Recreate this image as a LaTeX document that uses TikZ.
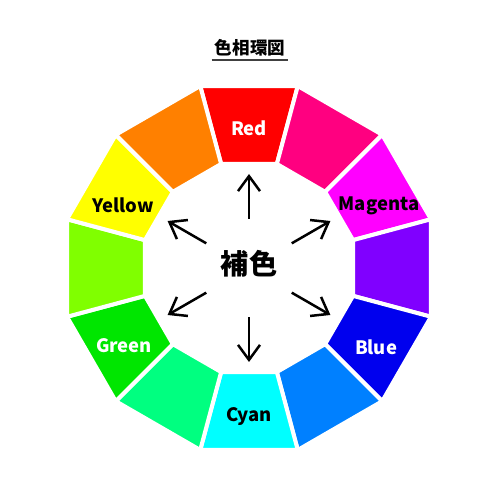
\documentclass[tikz,border=0pt]{standalone}
\usepackage{fontspec}
\setmainfont{Noto Sans CJK JP}
\usetikzlibrary{arrows.meta}
\begin{document}
\begin{tikzpicture}[x=0.02cm, y=0.02cm]
    % Styles
        \tikzstyle{segment} = [draw=white, line width=0.08cm]
        \tikzstyle{hue} = [font=\bfseries\fontsize{10.5}{12}\selectfont, inner sep=0]
        \tikzstyle{hub} = [circle, minimum size=1.96cm, inner sep=0, text height=0.6cm, text depth=0.34cm, font=\bfseries\fontsize{16}{18}\selectfont]
        \tikzstyle{heading} = [font=\bfseries\fontsize{10}{12}\selectfont, inner sep=0.06cm]
        \tikzstyle{pointer} = [draw, line width=0.05cm, -{Straight Barb[length=0.3cm, width=0.44cm]}]
    \useasboundingbox (0,0) rectangle (500,500);
    \begin{scope}[shift={(249,232)}]
    % colour wheel
        \foreach \a/\col in {90/FF0000, 60/FF0080, 30/FF00FF, 0/8000FF, -30/0000EE, -60/0080FF,
                             -90/00FFFF, -120/00FF80, -150/00E600, 180/80FF00, 150/FFFF00, 120/FF8000} {
            \definecolor{segcol}{HTML}{\col}
            \path [segment, fill=segcol] ({\a+15}:188.4) -- ({\a-15}:188.4) -- ({\a-15}:107.7) -- ({\a+15}:107.7) -- cycle;
        }
    % colour names
        \foreach \x/\y/\name/\tc in {0/140/Red/white, 130/62/Magenta/black, 127/-79/Blue/white,
                                     0/-149/Cyan/black, -125/-78/Green/white, -126/63/Yellow/black}
            \node [hue, text=\tc] (\name) at (\x,\y) {\name};
    % centre and arrows
        \node [hub] (hosyoku) at (0,0) {補色};
        \foreach \a in {90, 30, -30, -90, -150, 150} {
            \coordinate (tip\a) at (\a:94);
            \path [pointer] (hosyoku.\a) -- (tip\a);
        }
    % title
        \node [heading] (title) at (1,220) {色相環図};
        \draw [black!75, line width=0.03cm] (title.south west) -- (title.south east);
    \end{scope}
\end{tikzpicture}
\end{document}
